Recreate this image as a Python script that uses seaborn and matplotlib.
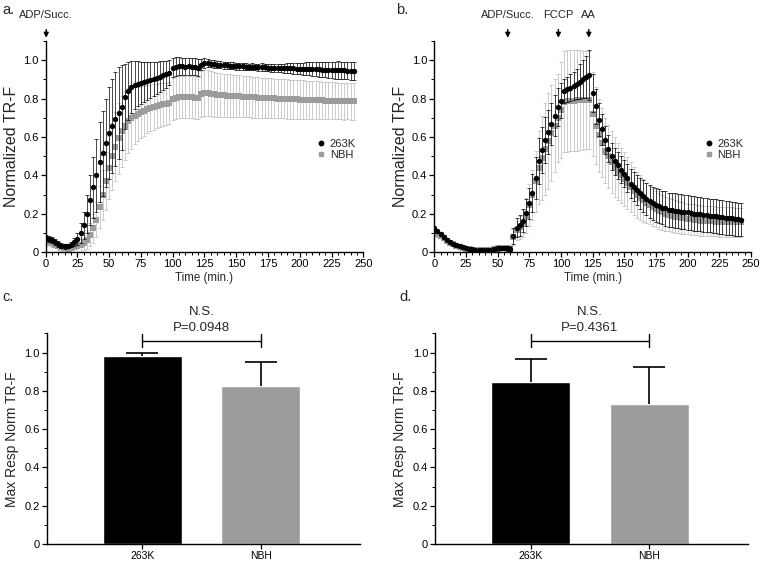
'''four-panel TR-F figure: time courses and max response bars'''
import numpy as np
import pandas as pd
import matplotlib
matplotlib.use('Agg')
import matplotlib.pyplot as plt
from matplotlib.ticker import MultipleLocator
from matplotlib.lines import Line2D
import seaborn as sns

# sampling grid of the time courses (min.)
time_min = np.arange(0, 245, 2.5)

# panel a: ADP/Succ. at t=0
a_263k_mean = [
    0.075, 0.070, 0.062, 0.052, 0.043, 0.035, 0.030, 0.032, 0.040, 0.052,
    0.070, 0.100, 0.140, 0.200, 0.270, 0.338, 0.400, 0.470, 0.515, 0.570,
    0.620, 0.660, 0.695, 0.725, 0.755, 0.810, 0.840, 0.862, 0.873, 0.879,
    0.883, 0.887, 0.892, 0.897, 0.902, 0.908, 0.914, 0.921, 0.928, 0.935,
    0.962, 0.967, 0.968, 0.968, 0.967, 0.968, 0.967, 0.966, 0.962, 0.978,
    0.985, 0.986, 0.983, 0.980, 0.978, 0.976, 0.975, 0.973, 0.972, 0.971,
    0.970, 0.969, 0.968, 0.967, 0.966, 0.966, 0.965, 0.964, 0.964, 0.963,
    0.962, 0.962, 0.961, 0.960, 0.960, 0.959, 0.959, 0.958, 0.958, 0.957,
    0.957, 0.956, 0.956, 0.955, 0.954, 0.954, 0.953, 0.952, 0.952, 0.951,
    0.950, 0.949, 0.949, 0.948, 0.947, 0.946, 0.946, 0.945]
a_263k_sd = [
    0.015, 0.015, 0.015, 0.015, 0.015, 0.012, 0.012, 0.012, 0.015, 0.020,
    0.030, 0.050, 0.070, 0.100, 0.130, 0.160, 0.190, 0.210, 0.220, 0.230,
    0.240, 0.245, 0.245, 0.240, 0.220, 0.170, 0.150, 0.135, 0.125, 0.115,
    0.110, 0.105, 0.100, 0.095, 0.090, 0.085, 0.080, 0.075, 0.070, 0.065,
    0.050, 0.048, 0.047, 0.046, 0.046, 0.045, 0.045, 0.045, 0.045, 0.030,
    0.025, 0.022, 0.020, 0.020, 0.019, 0.018, 0.018, 0.018, 0.018, 0.018,
    0.018, 0.018, 0.018, 0.017, 0.017, 0.018, 0.018, 0.019, 0.020, 0.020,
    0.020, 0.021, 0.022, 0.022, 0.023, 0.024, 0.025, 0.026, 0.027, 0.028,
    0.030, 0.031, 0.033, 0.034, 0.036, 0.037, 0.038, 0.040, 0.041, 0.042,
    0.043, 0.044, 0.045, 0.045, 0.046, 0.046, 0.047, 0.047]
a_nbh_mean = [
    0.060, 0.055, 0.048, 0.040, 0.032, 0.025, 0.020, 0.018, 0.020, 0.026,
    0.030, 0.038, 0.050, 0.066, 0.090, 0.125, 0.170, 0.235, 0.300, 0.370,
    0.440, 0.500, 0.550, 0.595, 0.630, 0.660, 0.685, 0.700, 0.712, 0.722,
    0.730, 0.737, 0.744, 0.750, 0.756, 0.761, 0.766, 0.770, 0.774, 0.778,
    0.800, 0.806, 0.808, 0.808, 0.807, 0.808, 0.807, 0.806, 0.805, 0.822,
    0.828, 0.829, 0.826, 0.823, 0.821, 0.819, 0.817, 0.816, 0.815, 0.814,
    0.813, 0.812, 0.811, 0.810, 0.809, 0.808, 0.807, 0.806, 0.805, 0.804,
    0.803, 0.802, 0.801, 0.800, 0.800, 0.799, 0.798, 0.797, 0.797, 0.796,
    0.795, 0.795, 0.794, 0.793, 0.793, 0.792, 0.792, 0.791, 0.790, 0.790,
    0.789, 0.789, 0.788, 0.788, 0.787, 0.787, 0.786, 0.786]
a_nbh_sd = [
    0.020, 0.020, 0.020, 0.020, 0.020, 0.020, 0.020, 0.020, 0.022, 0.025,
    0.030, 0.035, 0.040, 0.050, 0.060, 0.075, 0.090, 0.110, 0.130, 0.150,
    0.165, 0.175, 0.180, 0.185, 0.185, 0.180, 0.170, 0.160, 0.150, 0.140,
    0.135, 0.130, 0.125, 0.120, 0.120, 0.115, 0.115, 0.110, 0.110, 0.110,
    0.110, 0.110, 0.110, 0.110, 0.110, 0.110, 0.110, 0.110, 0.110, 0.120,
    0.120, 0.120, 0.118, 0.116, 0.115, 0.114, 0.113, 0.112, 0.111, 0.110,
    0.110, 0.109, 0.108, 0.108, 0.107, 0.107, 0.106, 0.106, 0.105, 0.105,
    0.105, 0.104, 0.104, 0.103, 0.103, 0.102, 0.102, 0.101, 0.101, 0.100,
    0.100, 0.100, 0.100, 0.099, 0.099, 0.099, 0.098, 0.098, 0.098, 0.097,
    0.097, 0.097, 0.096, 0.096, 0.096, 0.095, 0.095, 0.095]

# panel b: ADP/Succ., FCCP and AA injections
b_263k_mean = [
    0.125, 0.110, 0.095, 0.080, 0.066, 0.055, 0.045, 0.037, 0.030, 0.025,
    0.021, 0.018, 0.015, 0.013, 0.011, 0.010, 0.009, 0.009, 0.012, 0.018,
    0.020, 0.021, 0.021, 0.020, 0.018, 0.085, 0.127, 0.140, 0.165, 0.205,
    0.255, 0.310, 0.385, 0.475, 0.532, 0.583, 0.625, 0.668, 0.712, 0.758,
    0.790, 0.840, 0.848, 0.856, 0.866, 0.877, 0.889, 0.902, 0.913, 0.922,
    0.830, 0.760, 0.690, 0.640, 0.585, 0.540, 0.500, 0.473, 0.452, 0.430,
    0.410, 0.388, 0.358, 0.342, 0.322, 0.306, 0.292, 0.278, 0.265, 0.256,
    0.247, 0.239, 0.233, 0.228, 0.222, 0.219, 0.216, 0.214, 0.212, 0.210,
    0.207, 0.204, 0.201, 0.199, 0.197, 0.195, 0.193, 0.191, 0.189, 0.187,
    0.184, 0.182, 0.180, 0.178, 0.176, 0.174, 0.171, 0.169]
b_263k_sd = [
    0.012, 0.012, 0.011, 0.011, 0.010, 0.010, 0.009, 0.009, 0.008, 0.008,
    0.006, 0.006, 0.006, 0.005, 0.005, 0.005, 0.005, 0.005, 0.008, 0.010,
    0.012, 0.012, 0.012, 0.012, 0.012, 0.040, 0.050, 0.055, 0.060, 0.070,
    0.080, 0.100, 0.110, 0.120, 0.120, 0.120, 0.115, 0.110, 0.105, 0.100,
    0.090, 0.060, 0.065, 0.070, 0.075, 0.080, 0.090, 0.100, 0.110, 0.130,
    0.100, 0.090, 0.085, 0.080, 0.075, 0.070, 0.070, 0.070, 0.070, 0.070,
    0.070, 0.072, 0.074, 0.076, 0.078, 0.080, 0.082, 0.084, 0.085, 0.086,
    0.087, 0.088, 0.088, 0.089, 0.089, 0.090, 0.090, 0.090, 0.090, 0.090,
    0.090, 0.090, 0.090, 0.090, 0.089, 0.089, 0.089, 0.088, 0.088, 0.088,
    0.088, 0.088, 0.088, 0.087, 0.087, 0.087, 0.087, 0.087]
b_nbh_mean = [
    0.105, 0.095, 0.085, 0.072, 0.060, 0.050, 0.042, 0.035, 0.028, 0.023,
    0.019, 0.016, 0.013, 0.011, 0.010, 0.009, 0.008, 0.009, 0.014, 0.019,
    0.021, 0.022, 0.022, 0.021, 0.019, 0.080, 0.115, 0.130, 0.150, 0.190,
    0.245, 0.300, 0.370, 0.440, 0.490, 0.540, 0.580, 0.620, 0.660, 0.700,
    0.740, 0.785, 0.788, 0.790, 0.790, 0.791, 0.792, 0.793, 0.795, 0.795,
    0.720, 0.660, 0.610, 0.570, 0.530, 0.500, 0.470, 0.445, 0.420, 0.400,
    0.380, 0.360, 0.340, 0.320, 0.300, 0.285, 0.270, 0.255, 0.245, 0.235,
    0.225, 0.215, 0.208, 0.200, 0.195, 0.190, 0.186, 0.182, 0.179, 0.176,
    0.173, 0.171, 0.169, 0.167, 0.165, 0.164, 0.163, 0.162, 0.161, 0.160,
    0.159, 0.158, 0.158, 0.157, 0.157, 0.156, 0.156, 0.155]
b_nbh_sd = [
    0.015, 0.014, 0.013, 0.012, 0.011, 0.010, 0.010, 0.009, 0.009, 0.008,
    0.008, 0.007, 0.007, 0.006, 0.006, 0.006, 0.006, 0.006, 0.008, 0.010,
    0.012, 0.012, 0.012, 0.012, 0.012, 0.040, 0.050, 0.060, 0.070, 0.090,
    0.110, 0.130, 0.160, 0.190, 0.220, 0.240, 0.250, 0.250, 0.240, 0.230,
    0.250, 0.265, 0.265, 0.265, 0.265, 0.262, 0.260, 0.258, 0.256, 0.255,
    0.220, 0.200, 0.190, 0.180, 0.170, 0.165, 0.160, 0.155, 0.150, 0.145,
    0.140, 0.135, 0.130, 0.125, 0.120, 0.115, 0.110, 0.105, 0.100, 0.097,
    0.095, 0.092, 0.090, 0.088, 0.086, 0.085, 0.084, 0.083, 0.082, 0.081,
    0.080, 0.080, 0.080, 0.079, 0.079, 0.079, 0.078, 0.078, 0.078, 0.078,
    0.078, 0.077, 0.077, 0.077, 0.077, 0.077, 0.077, 0.077]

# panels c and d: maximal response
groups = ['263K', 'NBH']
c_mean = [0.984, 0.828]
c_sd = [0.016, 0.125]
c_pval = 'P=0.0948'
d_mean = [0.845, 0.732]
d_sd = [0.122, 0.195]
d_pval = 'P=0.4361'

BLACK = '#000000'
GREY = '#9c9c9c'
LIGHT = '#c4c4c4'


def style_axis(ax):
    ax.spines['top'].set_visible(False)
    ax.spines['right'].set_visible(False)
    for side in ('left', 'bottom'):
        ax.spines[side].set_linewidth(1.0)
        ax.spines[side].set_color(BLACK)
    ax.tick_params(which='both', bottom=True, left=True, colors=BLACK)
    ax.tick_params(which='major', direction='out', length=3.5, width=0.9,
                   labelsize=8, pad=1.5)
    ax.tick_params(which='minor', direction='out', length=2, width=0.7)
    ax.set_ylim(0, 1.1)
    ax.set_yticks([0, 0.2, 0.4, 0.6, 0.8, 1.0])
    ax.set_yticklabels(['0', '0.2', '0.4', '0.6', '0.8', '1.0'])
    ax.yaxis.set_minor_locator(MultipleLocator(0.1))


def time_course(ax, mean_k, sd_k, mean_n, sd_n, arrows):
    df = pd.DataFrame({'time': time_min, 'k_mean': mean_k, 'k_sd': sd_k,
                       'n_mean': mean_n, 'n_sd': sd_n})
    ax.errorbar(df['time'], df['n_mean'], yerr=df['n_sd'], fmt='none',
                ecolor=LIGHT, elinewidth=0.6, capsize=1.2, capthick=0.6,
                zorder=1)
    sns.scatterplot(data=df, x='time', y='n_mean', ax=ax, marker='s',
                    color=GREY, s=13, linewidth=0, zorder=2)
    ax.errorbar(df['time'], df['k_mean'], yerr=df['k_sd'], fmt='none',
                ecolor=BLACK, elinewidth=0.5, capsize=1.2, capthick=0.5,
                zorder=3)
    sns.scatterplot(data=df, x='time', y='k_mean', ax=ax, marker='o',
                    color=BLACK, s=15, linewidth=0, zorder=4)
    style_axis(ax)
    ax.set_xlim(0, 250)
    ax.set_xticks(range(0, 251, 25))
    ax.xaxis.set_minor_locator(MultipleLocator(5))
    ax.set_xlabel('Time (min.)', fontsize=8.3, labelpad=2)
    ax.set_ylabel('Normalized TR-F', fontsize=11.5, labelpad=3)
    handles = [Line2D([], [], ls='none', marker='o', color=BLACK, ms=3.2),
               Line2D([], [], ls='none', marker='s', color=GREY, ms=3)]
    ax.legend(handles, groups, loc='center left', bbox_to_anchor=(0.835, 0.486),
              frameon=False, fontsize=8, handlelength=0.8,
              handletextpad=0.4, labelspacing=0.1, borderpad=0)
    for t, label in arrows:
        ax.annotate('', xy=(t, 1.103), xytext=(t, 1.175),
                    arrowprops=dict(arrowstyle='-|>', color=BLACK, lw=1.0,
                                    mutation_scale=7),
                    annotation_clip=False)
        ax.text(t, 1.235, label, ha='center', va='center', fontsize=8)


def max_resp(ax, mean, sd, pval):
    sns.barplot(x=groups, y=mean, hue=groups, palette=[BLACK, GREY],
                width=0.667, legend=False, ax=ax, saturation=1)
    bars = ax.errorbar([0, 1], mean, yerr=[[0, 0], sd], fmt='none',
                       ecolor=BLACK, elinewidth=1.2, capsize=11.5,
                       capthick=1.2)
    # one-sided bars: hide the cap at the bar top
    bars[1][0].set_visible(False)
    style_axis(ax)
    ax.tick_params(axis='x', which='minor', bottom=False)
    ax.set_xlim(-0.808, 1.836)
    ax.tick_params(axis='x', labelsize=7.5)
    ax.set_ylabel('Max Resp Norm TR-F', fontsize=10, labelpad=4)
    ax.set_xlabel('')
    ax.plot([0, 1], [1.063, 1.063], color=BLACK, lw=1.0, clip_on=False)
    for xb in (0, 1):
        ax.plot([xb, xb], [1.03, 1.095], color=BLACK, lw=1.0, clip_on=False)
    ax.text(0.5, 1.128, pval, ha='center', va='center', fontsize=9.5)
    ax.text(0.5, 1.214, 'N.S.', ha='center', va='center', fontsize=9.5)


def main():
    sns.set_style('white')
    plt.rcParams['font.family'] = ['Liberation Sans', 'DejaVu Sans']
    fig = plt.figure(figsize=(7.6, 5.63), dpi=100)

    ax_a = fig.add_axes([0.060, 0.552, 0.418, 0.375])
    ax_b = fig.add_axes([0.5714, 0.552, 0.4167, 0.375])
    ax_c = fig.add_axes([0.0614, 0.0337, 0.412, 0.374])
    ax_d = fig.add_axes([0.5724, 0.0337, 0.412, 0.374])

    time_course(ax_a, a_263k_mean, a_263k_sd, a_nbh_mean, a_nbh_sd,
                [(0.5, 'ADP/Succ.')])
    time_course(ax_b, b_263k_mean, b_263k_sd, b_nbh_mean, b_nbh_sd,
                [(58, 'ADP/Succ.'), (98, 'FCCP'), (122, 'AA')])
    max_resp(ax_c, c_mean, c_sd, c_pval)
    max_resp(ax_d, d_mean, d_sd, d_pval)

    fig.text(0.003, 0.982, 'a.', fontsize=10.5, va='center')
    fig.text(0.521, 0.982, 'b.', fontsize=10.5, va='center')
    fig.text(0.003, 0.472, 'c.', fontsize=10.5, va='center')
    fig.text(0.525, 0.472, 'd.', fontsize=10.5, va='center')

    fig.savefig('out.png', dpi=100)


if __name__ == '__main__':
    main()
